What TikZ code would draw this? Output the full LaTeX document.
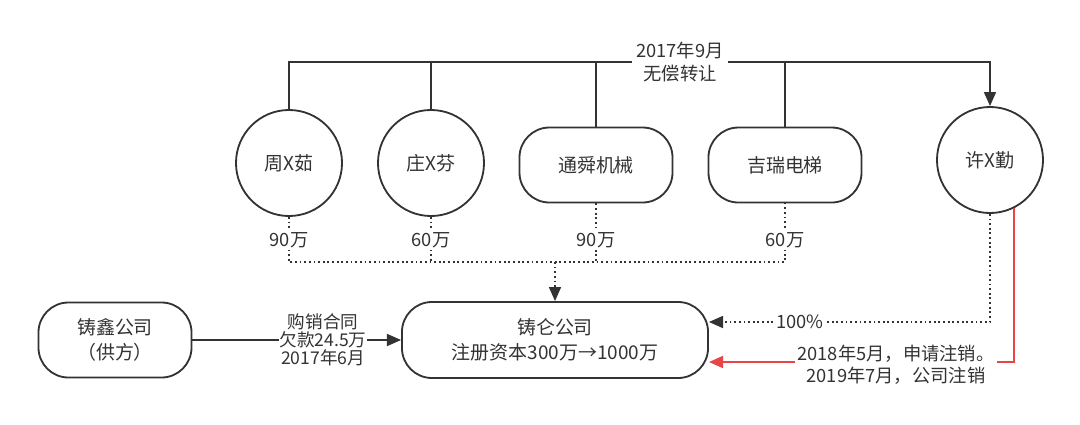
\documentclass[tikz,border=0pt]{standalone}
\usepackage{fontspec}
\newfontfamily\cjk{Noto Sans CJK SC}
\usetikzlibrary{arrows.meta, positioning, calc, shapes}
\usepackage{xcolor}
\definecolor{inkgray}{RGB}{51,51,51}
\definecolor{softred}{RGB}{232,70,70}

\tikzset{
  person/.style={circle, draw=inkgray, line width=1.3pt, minimum size=2.65cm, inner sep=0pt,
    text=inkgray, font=\cjk\fontsize{13.5}{17}\selectfont},
  firm/.style={rectangle, rounded corners=0.75cm, draw=inkgray, line width=1.3pt,
    minimum width=3.825cm, minimum height=1.875cm, align=center, text=inkgray,
    font=\cjk\fontsize{13.5}{17.5}\selectfont},
  conn/.style={draw=inkgray, line width=1.3pt},
  share/.style={conn, dash pattern=on 1.3pt off 2pt},
  tip/.style={-{Triangle[length=10pt,width=8.5pt]}},
  lbl/.style={fill=white, inner sep=1.5pt, text=inkgray, align=center,
    font=\cjk\fontsize{13}{17}\selectfont},
}

\begin{document}
\begin{tikzpicture}[x=0.025cm, y=-0.025cm]
  \useasboundingbox (0,0) rectangle (1080,424);

  % shareholders
  \node[person] (zr) at (289,163) {周X茹};
  \node[person] (zf) at (431,163) {庄X芬};
  \node[firm] (ts) at (596,165) {通舜机械};
  \node[firm] (jr) at (785,165) {吉瑞电梯};
  \node[person] (xq) at (990,160) {许X勤};

  % companies
  \node[firm] (zx) at (115,340) {铸鑫公司\\（供方）};
  \node[firm, minimum width=7.65cm, minimum height=1.9cm] (zl) at (555,340) {铸仑公司\\注册资本300万→1000万};

  % transfer on top
  \coordinate (top) at (680,62);
  \draw[conn] (zr.north) -- (zr.north |- top) -- (top);
  \draw[conn, tip] (top) -| (xq.north);
  \draw[conn] (zf.north) -- (zf.north |- top);
  \draw[conn] (ts.north) -- (ts.north |- top);
  \draw[conn] (jr.north) -- (jr.north |- top);
  \node[lbl, inner sep=3pt] (tl) at (top) {2017年9月\\无偿转让};

  % capital contributions
  \coordinate (mid) at (555,262);
  \draw[share] (zr.south) -- (zr.south |- mid) -- (jr.south |- mid) -- (jr.south);
  \draw[share] (zf.south) -- (zf.south |- mid);
  \draw[share] (ts.south) -- (ts.south |- mid);
  \draw[share, tip] (mid) -- (zl.north);
  \node[lbl] (a1) at (289,240) {90万};
  \node[lbl] (a2) at (431,240) {60万};
  \node[lbl] (a3) at (596,240) {90万};
  \node[lbl] (a4) at (785,240) {60万};

  % 100%
  \draw[share, tip] (xq.south) |- ([yshift=0.45cm]zl.east);
  \node[lbl] (pc) at (800,322) {100\%};

  % deregistration
  \draw[conn, draw=softred, tip] (xq.-64) |- ([yshift=-0.55cm]zl.east);
  \node[lbl, font=\cjk\fontsize{13}{15.5}\selectfont] (dz) at (896,365) {2018年5月，申请注销。\\2019年7月，公司注销};

  % purchase contract
  \draw[conn, tip] (zx.east) -- (zl.west);
  \node[lbl, inner sep=0.5pt, font=\cjk\fontsize{12.5}{13}\selectfont] (gx) at (323,340) {购销合同\\欠款24.5万\\2017年6月};
\end{tikzpicture}
\end{document}
